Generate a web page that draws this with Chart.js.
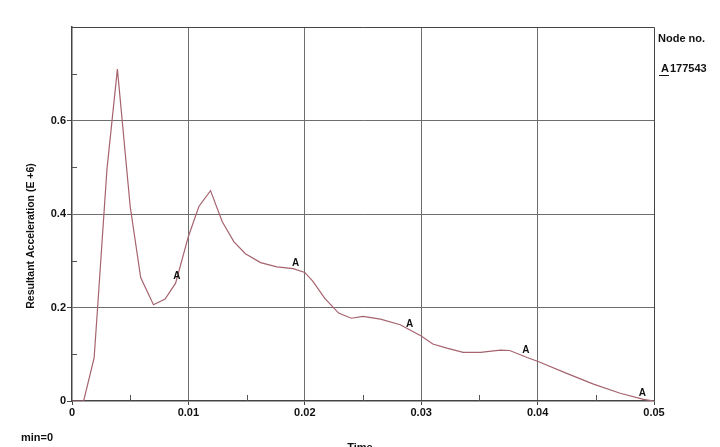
<!DOCTYPE html>
<html>
<head>
<meta charset="utf-8">
<script src="https://cdn.jsdelivr.net/npm/chart.js@4.4.0/dist/chart.umd.min.js"></script>
<style>
    html, body { margin: 0; padding: 0; background: #fff; }
    #wrap { position: relative; width: 720px; height: 447px; }
</style>
</head>
<body>
<div id="wrap"><canvas id="accelChart" width="720" height="447"></canvas></div>
<script>
// time (s) / resultant acceleration (E+6)
const timeValues = [0, 0.001, 0.0019, 0.0022, 0.003, 0.0039, 0.005, 0.0059, 0.007, 0.008, 0.0089,
    0.01, 0.0109, 0.0119, 0.0129, 0.0139, 0.0149, 0.0162, 0.0176, 0.019, 0.02, 0.0207, 0.0217,
    0.0229, 0.024, 0.025, 0.0265, 0.0282, 0.03, 0.031, 0.0322, 0.0336, 0.0351, 0.0368, 0.0376,
    0.0391, 0.0401, 0.0425, 0.0448, 0.0471, 0.0491, 0.05];
const accelValues = [0, 0, 0.092, 0.2, 0.495, 0.71, 0.416, 0.264, 0.206, 0.218, 0.252,
    0.352, 0.416, 0.45, 0.384, 0.341, 0.315, 0.296, 0.287, 0.283, 0.275, 0.256, 0.22,
    0.188, 0.177, 0.181, 0.175, 0.163, 0.139, 0.122, 0.113, 0.104, 0.104, 0.109, 0.108,
    0.093, 0.084, 0.059, 0.036, 0.0165, 0.0036, 0];

// "A" node markers along the curve
const markerTimes = [0.009, 0.0192, 0.029, 0.039, 0.049];
const markerValues = [0.255, 0.282, 0.151, 0.095, 0.004];

const xTickLabels = ['0', '0.01', '0.02', '0.03', '0.04', '0.05'];
const yTickLabels = ['0', '0.2', '0.4', '0.6'];

const nodeId = '177543';
const lineColor = '#a5636e';
const gridColor = '#6e6e6e';
const narrowBold = "bold 11px 'Liberation Sans Narrow', 'Arial Narrow', sans-serif";

function isMajor(v, step) {
    return Math.abs(v / step - Math.round(v / step)) < 1e-6;
}

// short inner ticks at the half steps + frame on top/right
const minorTicks = {
    id: 'minorTicks',
    afterDraw(chart) {
        const { ctx, chartArea: { left, right, top, bottom }, scales: { x, y } } = chart;
        ctx.save();
        ctx.strokeStyle = '#555';
        ctx.lineWidth = 1;
        ctx.beginPath();
        y.ticks.forEach(t => {
            if (!isMajor(t.value, 0.2)) {
                const py = Math.round(y.getPixelForValue(t.value)) + 0.5;
                ctx.moveTo(left, py); ctx.lineTo(left + 5, py);
            }
        });
        x.ticks.forEach(t => {
            if (!isMajor(t.value, 0.01)) {
                const px = Math.round(x.getPixelForValue(t.value)) + 0.5;
                ctx.moveTo(px, bottom); ctx.lineTo(px, bottom - 6);
            }
        });
        ctx.stroke();
        ctx.strokeStyle = '#444';
        ctx.beginPath();
        ctx.moveTo(left, Math.round(top) + 0.5);
        ctx.lineTo(Math.round(right) + 0.5, Math.round(top) + 0.5);
        ctx.lineTo(Math.round(right) + 0.5, bottom);
        ctx.stroke();
        ctx.restore();
    }
};

// letters "A" on the node marker dataset + the texts around the plot
const annotations = {
    id: 'annotations',
    afterDatasetsDraw(chart) {
        const { ctx } = chart;
        const meta = chart.getDatasetMeta(1);
        ctx.save();
        ctx.fillStyle = '#111';
        ctx.font = "bold 10px 'Liberation Sans', Arial, sans-serif";
        ctx.textAlign = 'center';
        ctx.textBaseline = 'bottom';
        meta.data.forEach(p => ctx.fillText('A', p.x, p.y - 1));

        ctx.font = narrowBold;
        ctx.textAlign = 'left';
        ctx.textBaseline = 'middle';
        ctx.fillText('Node no.', 658, 39);
        ctx.fillText('A', 661, 69);
        ctx.fillText(nodeId, 670, 69);
        ctx.fillRect(659, 75, 10, 1);
        ctx.fillText('min=0', 21, 438);
        ctx.textAlign = 'center';
        ctx.textBaseline = 'alphabetic';
        ctx.fillText('Time', 360, 451);

        ctx.translate(31, 236);
        ctx.rotate(-Math.PI / 2);
        ctx.font = "bold 10.5px 'Liberation Sans', Arial, sans-serif";
        ctx.textBaseline = 'middle';
        ctx.fillText('Resultant Acceleration (E +6)', 0, 0);
        ctx.restore();
    }
};

const ctx = document.getElementById('accelChart').getContext('2d');

new Chart(ctx, {
    type: 'scatter',
    data: {
        datasets: [{
            data: timeValues.map((t, i) => ({ x: t, y: accelValues[i] })),
            showLine: true,
            borderColor: lineColor,
            borderWidth: 1.2,
            pointRadius: 0,
            tension: 0
        },
        {
            data: markerTimes.map((t, i) => ({ x: t, y: markerValues[i] })),
            showLine: false,
            pointRadius: 0
        }]
    },
    options: {
        responsive: false,
        animation: false,
        layout: {
            padding: { left: 0, top: 27, right: 66, bottom: 0 }
        },
        scales: {
            x: {
                type: 'linear',
                min: 0,
                max: 0.05,
                afterFit: s => { s.height = 46; },
                afterBuildTicks: s => {
                    s.ticks = [];
                    for (let i = 0; i <= 10; i++) s.ticks.push({ value: +(i * 0.005).toFixed(3) });
                },
                grid: {
                    color: c => isMajor(c.tick.value, 0.01) && c.tick.value > 0 && c.tick.value < 0.05 ? gridColor : 'rgba(0,0,0,0)',
                    tickColor: c => isMajor(c.tick.value, 0.01) ? '#444' : 'rgba(0,0,0,0)',
                    tickLength: 4
                },
                border: { color: '#444', width: 1.5 },
                ticks: {
                    autoSkip: false,
                    maxRotation: 0,
                    padding: 1,
                    color: '#111',
                    font: { family: "'Liberation Sans Narrow', 'Arial Narrow', sans-serif", size: 11, weight: 'bold' },
                    callback: v => isMajor(v, 0.01) ? xTickLabels[Math.round(v / 0.01)] : ''
                }
            },
            y: {
                min: 0,
                max: 0.8,
                afterFit: s => { s.width = 72; },
                afterBuildTicks: s => {
                    s.ticks = [];
                    for (let i = 0; i <= 8; i++) s.ticks.push({ value: +(i * 0.1).toFixed(1) });
                },
                grid: {
                    color: c => isMajor(c.tick.value, 0.2) && c.tick.value > 0 && c.tick.value < 0.8 ? gridColor : 'rgba(0,0,0,0)',
                    tickColor: c => isMajor(c.tick.value, 0.2) && c.tick.value < 0.8 ? '#444' : 'rgba(0,0,0,0)',
                    tickLength: 5
                },
                border: { color: '#444', width: 1.5 },
                ticks: {
                    autoSkip: false,
                    padding: 1,
                    color: '#111',
                    font: { family: "'Liberation Sans Narrow', 'Arial Narrow', sans-serif", size: 11, weight: 'bold' },
                    callback: v => isMajor(v, 0.2) && v < 0.7 ? yTickLabels[Math.round(v / 0.2)] : ''
                }
            }
        },
        plugins: {
            legend: { display: false },
            tooltip: { enabled: false }
        }
    },
    plugins: [minorTicks, annotations]
});
</script>
</body>
</html>
